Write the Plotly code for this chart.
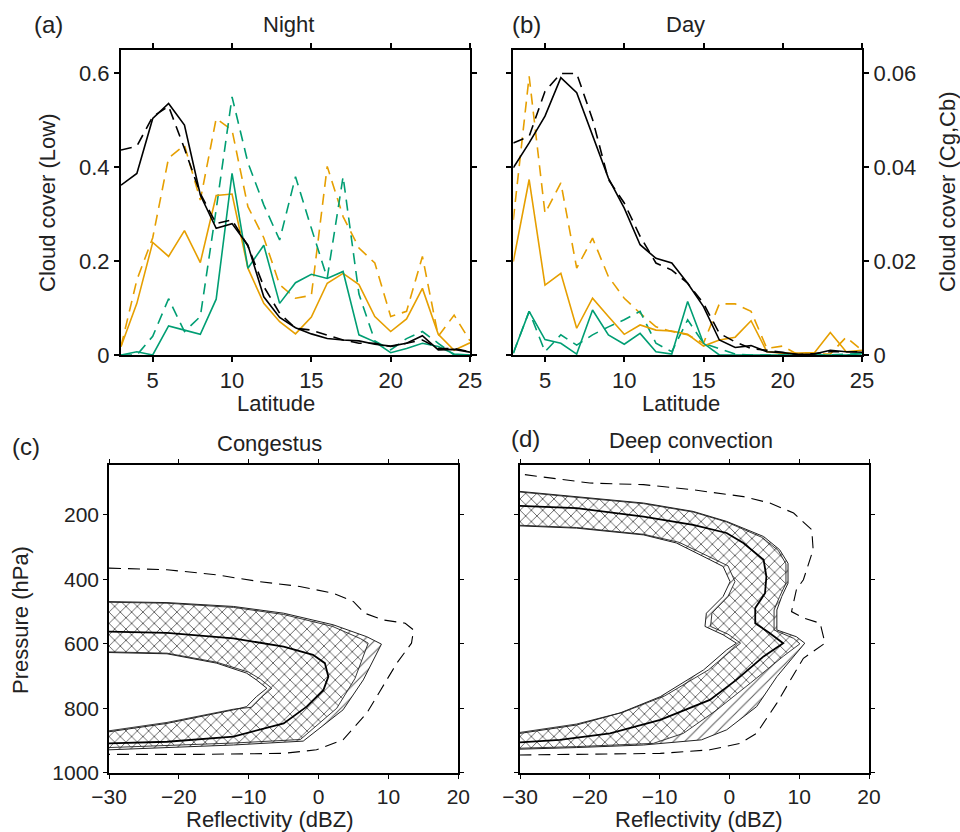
import plotly.graph_objects as go

# ---------------- data: panels (a) and (b) ----------------
latitude = list(range(3, 26))

night_black_solid = [0.362, 0.387, 0.504, 0.536, 0.49, 0.341, 0.27, 0.28, 0.234, 0.124, 0.08, 0.058,
                     0.045, 0.035, 0.032, 0.03, 0.023, 0.019, 0.025, 0.041, 0.011, 0.012, 0.006]
night_black_dash = [0.437, 0.445, 0.508, 0.53, 0.44, 0.344, 0.28, 0.288, 0.232, 0.146, 0.089, 0.057,
                    0.053, 0.043, 0.032, 0.025, 0.025, 0.018, 0.025, 0.032, 0.014, 0.014, 0.007]
night_orange_solid = [0.018, 0.11, 0.24, 0.21, 0.265, 0.197, 0.34, 0.343, 0.185, 0.11, 0.071, 0.045,
                      0.081, 0.153, 0.174, 0.15, 0.082, 0.05, 0.077, 0.142, 0.044, 0.01, 0.026]
night_orange_dash = [0.018, 0.16, 0.25, 0.42, 0.447, 0.33, 0.504, 0.479, 0.316, 0.25, 0.15, 0.121,
                     0.127, 0.402, 0.295, 0.228, 0.196, 0.082, 0.093, 0.21, 0.04, 0.085, 0.03]
night_green_solid = [0.0, 0.007, 0.0, 0.062, 0.053, 0.044, 0.119, 0.387, 0.185, 0.234, 0.11, 0.154,
                     0.172, 0.163, 0.178, 0.043, 0.028, 0.005, 0.014, 0.025, 0.018, 0.002, 0.0]
night_green_dash = [0.0, 0.0, 0.04, 0.12, 0.05, 0.082, 0.31, 0.55, 0.41, 0.32, 0.245, 0.38,
                    0.27, 0.164, 0.38, 0.13, 0.03, 0.011, 0.035, 0.05, 0.025, 0.0, 0.0]

day_black_solid = [0.0399, 0.0452, 0.0509, 0.0591, 0.0559, 0.047, 0.0377, 0.0313, 0.0235, 0.0206, 0.0196,
                   0.0153, 0.0103, 0.0032, 0.0016, 0.002, 0.0007, 0.0005, 0.0001, 0.0002, 0.001, 0.0007, 0.0006]
day_black_dash = [0.0452, 0.0466, 0.0562, 0.06, 0.06, 0.0502, 0.0374, 0.0324, 0.0253, 0.0196, 0.0181,
                  0.0153, 0.011, 0.0046, 0.0028, 0.0014, 0.001, 0.0005, 0.0001, 0.0003, 0.0007, 0.0007, 0.0007]
day_orange_solid = [0.0199, 0.0374, 0.0149, 0.0174, 0.0057, 0.0121, 0.0082, 0.0044, 0.0064, 0.0053, 0.0051,
                    0.0044, 0.0019, 0.0032, 0.0038, 0.0073, 0.0007, 0.0004, 0.0004, 0.0005, 0.0048, 0.0007, 0.001]
day_orange_dash = [0.0288, 0.0594, 0.0302, 0.0367, 0.0185, 0.0249, 0.0167, 0.0121, 0.0089, 0.006, 0.005,
                   0.0043, 0.0025, 0.0109, 0.0109, 0.0093, 0.0014, 0.0019, 0.0, 0.0002, 0.0002, 0.0038, 0.001]
day_green_solid = [0.0004, 0.0093, 0.0033, 0.0025, 0.0002, 0.0096, 0.0043, 0.0023, 0.0046, 0.0007, 0.0002,
                   0.0114, 0.0025, 0.0, 0.0, 0.0, 0.0, 0.0, 0.0, 0.0, 0.0, 0.0, 0.0003]
day_green_dash = [0.0004, 0.0093, 0.0007, 0.0043, 0.0021, 0.0043, 0.006, 0.0075, 0.0093, 0.0025, 0.0007,
                  0.0075, 0.0025, 0.0014, 0.0002, 0.0, 0.0, 0.0, 0.0, 0.0, 0.0, 0.0002, 0.0003]

# ---------------- data: panel (c) Congestus contours (dBZ, hPa) ----------------
cg_dash_dbz = [-30, -21.7, -14.6, -8.4, -2.7, 2.1, 5.0, 6.6, 9.3, 12.4, 13.6, 13.3, 11.2, 9.5, 6.9, 3.5, -0.3, -5.0, -17, -30]
cg_dash_p = [365, 370, 386, 407, 422, 443, 469, 505, 526, 536, 557, 598, 660, 722, 815, 898, 929, 940, 943, 943]

cg_outer_dbz = [-30, -21.7, -12.2, -5.0, 2.1, 6.9, 9.0, 6.4, 3.5, -2.2, -12.2, -21.7, -30]
cg_outer_p = [469, 472, 484, 505, 541, 578, 601, 712, 805, 902, 914, 922, 929]

cg_band_dbz = [-30, -21.7, -12.2, -5.0, 2.0, 6.0, 7.1, 5.2, 2.6, -2.6, -12.2, -21.7, -30]
cg_band_p = [471, 474, 487, 509, 546, 584, 598, 708, 800, 897, 908, 916, 922]

cg_inner2_dbz = [-30, -21.7, -14.6, -10.0, -8.3, -6.7, -8.2, -9.6, -12.2, -21.7, -30]
cg_inner2_p = [625, 629, 657, 688, 710, 738, 766, 797, 803, 844, 870]

cg_inner_dbz = [-30, -21.7, -14.6, -10.3, -8.9, -7.4, -8.9, -10.3, -12.2, -21.7, -30]
cg_inner_p = [627, 631, 660, 691, 712, 738, 764, 795, 805, 847, 873]

cg_mid_dbz = [-30, -21.7, -12.2, -5.0, -0.8, 0.9, 1.4, 0.7, -1.7, -5.0, -12.2, -21.7, -30]
cg_mid_p = [562, 566, 583, 609, 634, 660, 702, 743, 795, 847, 888, 904, 909]

# ---------------- data: panel (d) Deep convection contours (dBZ, hPa) ----------------
dc_dash_dbz = [-29.3, -20, -12.3, -5.2, 2.0, 5.8, 9.2, 11.8, 12.0, 10.6, 9.6, 8.9, 10.6, 13.0, 13.7, 10.6,
               9.6, 6.8, 3.9, 1.5, -2.8, -9.9, -30]
dc_dash_p = [75, 101, 106, 122, 143, 163, 194, 246, 308, 401, 432, 500, 520, 536, 598, 645,
             681, 784, 878, 909, 929, 940, 945]

dc_outer_dbz = [-30, -21.9, -12.3, -5.2, -0.4, 4.9, 7.2, 8.4, 8.4, 7.5, 6.8, 6.8, 9.6, 10.8, 9.6, 6.8,
                3.9, -0.4, -4.0, -12.3, -21.9, -30]
dc_outer_p = [127, 143, 163, 189, 220, 267, 308, 350, 412, 453, 495, 557, 578, 598, 629, 702,
              795, 867, 898, 914, 922, 927]

dc_band_dbz = [-30, -21.9, -12.3, -5.2, -0.4, 4.6, 7.0, 8.1, 8.1, 7.2, 6.4, 6.4, 9.2, 10.1, 7.7, 3.0,
               -1.8, -6.6, -10.9, -21.9, -30]
dc_band_p = [129, 145, 165, 191, 222, 269, 310, 352, 412, 453, 495, 557, 583, 600, 639, 722,
             805, 878, 909, 919, 924]

dc_inner2_dbz = [-30, -21.9, -12.3, -7.2, -2.2, -0.2, 0.8, -0.2, -2.5, -2.7, -0.2, 1.6, 0.3, -3.0,
                 -9.3, -15.2, -21.9, -30]
dc_inner2_p = [232, 239, 260, 285, 337, 358, 407, 453, 505, 546, 570, 598, 620, 681, 762, 812, 849, 875]

dc_inner_dbz = [-30, -21.9, -12.3, -7.6, -2.8, -0.9, 0.1, -0.9, -3.3, -3.5, -0.9, 1.0, -0.4, -3.7,
                -9.9, -15.7, -21.9, -30]
dc_inner_p = [234, 241, 262, 287, 339, 360, 407, 453, 505, 546, 572, 598, 619, 681, 764, 815, 852, 878]

dc_mid_dbz = [-30, -21.9, -12.3, -5.2, -0.4, 2.0, 4.9, 5.3, 5.1, 3.7, 3.7, 5.8, 7.7, 4.9, 1.0, -2.8,
              -9.9, -17.1, -24.3, -30]
dc_mid_p = [172, 179, 205, 231, 256, 287, 339, 391, 443, 489, 536, 567, 598, 639, 712, 774,
            836, 878, 898, 906]

# ---------------- tick labels ----------------
lat_ticks = [5, 10, 15, 20, 25]
low_ticks = [0, 0.2, 0.4, 0.6]
low_ticktext = ["0", "0.2", "0.4", "0.6"]
cgcb_ticks = [0, 0.02, 0.04, 0.06]
cgcb_ticktext = ["0", "0.02", "0.04", "0.06"]
dbz_ticks = [-30, -20, -10, 0, 10, 20]
dbz_ticktext = ["\u221230", "\u221220", "\u221210", "0", "10", "20"]
p_ticks = [200, 400, 600, 800, 1000]
p_ticktext = ["200", "400", "600", "800", "1000"]

# ---------------- styles ----------------
W, H = 960, 832
ORANGE = "#E69F00"
GREEN = "#009E73"
FONT = "Liberation Sans, Arial, sans-serif"
DASH = "11px,7px"
LW = 1.6


def px_x(px):
    return px / W


def px_y(py):
    return 1 - py / H


fig = go.Figure()


def add_line(x, y, color, dash, xa, ya, width=LW):
    fig.add_trace(go.Scatter(x=x, y=y, mode="lines", xaxis=xa, yaxis=ya,
                             line=dict(color=color, width=width, dash=dash),
                             hoverinfo="skip", showlegend=False))


# panel (a)
for ys, col, dsh in [(night_orange_dash, ORANGE, DASH), (night_green_dash, GREEN, DASH),
                     (night_orange_solid, ORANGE, "solid"), (night_green_solid, GREEN, "solid"),
                     (night_black_dash, "black", DASH), (night_black_solid, "black", "solid")]:
    add_line(latitude, ys, col, dsh, "x", "y")

# panel (b)
for ys, col, dsh in [(day_orange_dash, ORANGE, DASH), (day_green_dash, GREEN, DASH),
                     (day_orange_solid, ORANGE, "solid"), (day_green_solid, GREEN, "solid"),
                     (day_black_dash, "black", DASH), (day_black_solid, "black", "solid")]:
    add_line(latitude, ys, col, dsh, "x2", "y2")


def add_fill(x, y, xa, ya, shape, size, solidity, fg, bg):
    if shape is None:
        fig.add_trace(go.Scatter(x=x, y=y, mode="lines", fill="toself", fillcolor=bg,
                                 line=dict(width=0, color=bg), xaxis=xa, yaxis=ya,
                                 hoverinfo="skip", showlegend=False))
    else:
        fig.add_trace(go.Scatter(x=x, y=y, mode="lines", fill="toself", fillcolor=bg,
                                 fillpattern=dict(shape=shape, size=size, solidity=solidity,
                                                  fgcolor=fg, bgcolor=bg),
                                 line=dict(width=0, color=bg), xaxis=xa, yaxis=ya,
                                 hoverinfo="skip", showlegend=False))


def contour_panel(xa, ya, outer, band, inner2, inner, mid, dash):
    add_fill(outer[0], outer[1], xa, ya, "/", 8, 0.12, "#555555", "white")
    add_fill(band[0], band[1], xa, ya, "x", 8, 0.15, "#111111", "white")
    add_fill(inner2[0], inner2[1], xa, ya, "/", 8, 0.12, "#666666", "white")
    add_fill(inner[0], inner[1], xa, ya, None, 0, 0, None, "white")
    for c, w in [(outer, 1.0), (band, 0.9), (inner2, 0.9), (inner, 1.0)]:
        add_line(c[0], c[1], "#222222", "solid", xa, ya, width=w)
    add_line(mid[0], mid[1], "black", "solid", xa, ya, width=1.8)
    add_line(dash[0], dash[1], "black", "12px,7px", xa, ya, width=1.1)


contour_panel("x3", "y3", (cg_outer_dbz, cg_outer_p), (cg_band_dbz, cg_band_p),
              (cg_inner2_dbz, cg_inner2_p), (cg_inner_dbz, cg_inner_p),
              (cg_mid_dbz, cg_mid_p), (cg_dash_dbz, cg_dash_p))
contour_panel("x4", "y4", (dc_outer_dbz, dc_outer_p), (dc_band_dbz, dc_band_p),
              (dc_inner2_dbz, dc_inner2_p), (dc_inner_dbz, dc_inner_p),
              (dc_mid_dbz, dc_mid_p), (dc_dash_dbz, dc_dash_p))

# ---------------- axes ----------------
top_ax = dict(showline=True, linecolor="black", linewidth=2, mirror="ticks", ticks="outside",
              ticklen=5, tickwidth=1.5, tickcolor="black", showgrid=False, zeroline=False,
              automargin=False, tickfont=dict(family=FONT, size=22, color="#222"))
bot_ax = dict(showline=True, linecolor="black", linewidth=1.6, mirror="ticks", ticks="outside",
              ticklen=4, tickwidth=1.2, tickcolor="black", showgrid=False, zeroline=False,
              automargin=False, tickfont=dict(family=FONT, size=21, color="#222"))

dom_y_top = [px_y(355), px_y(50)]
dom_y_bot = [px_y(772.7), px_y(465)]

fig.update_layout(
    template="none",
    width=W, height=H, margin=dict(l=0, r=0, t=0, b=0, pad=0),
    paper_bgcolor="white", plot_bgcolor="white", showlegend=False,
    xaxis=dict(**top_ax, domain=[px_x(121), px_x(470)], range=[3, 25], tickvals=lat_ticks, anchor="y"),
    yaxis=dict(**top_ax, domain=dom_y_top, range=[0, 0.65], tickvals=low_ticks,
               ticktext=low_ticktext, anchor="x"),
    xaxis2=dict(**top_ax, domain=[px_x(513.3), px_x(862)], range=[3, 25], tickvals=lat_ticks, anchor="y2"),
    yaxis2=dict(**top_ax, domain=dom_y_top, range=[0, 0.065], tickvals=cgcb_ticks,
                ticktext=cgcb_ticktext, side="right", anchor="x2"),
    xaxis3=dict(**bot_ax, domain=[px_x(109), px_x(458.3)], range=[-30, 20], tickvals=dbz_ticks,
                ticktext=dbz_ticktext, anchor="y3"),
    yaxis3=dict(**bot_ax, domain=dom_y_bot, range=[1000, 45], tickvals=p_ticks,
                ticktext=p_ticktext, anchor="x3"),
    xaxis4=dict(**bot_ax, domain=[px_x(520), px_x(869)], range=[-30, 20], tickvals=dbz_ticks,
                ticktext=dbz_ticktext, anchor="y4"),
    yaxis4=dict(**bot_ax, domain=dom_y_bot, range=[1000, 45], tickvals=p_ticks,
                showticklabels=False, anchor="x4"),
)

# ---------------- text ----------------
def label(text, x, y, size=22, angle=0):
    fig.add_annotation(text=text, x=px_x(x), y=px_y(y), xref="paper", yref="paper",
                       showarrow=False, textangle=angle, xanchor="center", yanchor="middle",
                       font=dict(family=FONT, size=size, color="#222"))


label("(a)", 48, 24, 24)
label("Night", 288, 25)
label("(b)", 526, 24, 24)
label("Day", 685, 25)
label("Cloud cover (Low)", 48, 203, 22, -90)
label("Cloud cover (Cg,Cb)", 947, 192, 22, -90)
label("Latitude", 276, 403)
label("Latitude", 681, 403)
label("(c)", 26, 446, 24)
label("Congestus", 269, 443)
label("(d)", 525, 438, 24)
label("Deep convection", 691, 440)
label("Pressure (hPa)", 20, 620, 22, -90)
label("Reflectivity (dBZ)", 269, 819)
label("Reflectivity (dBZ)", 698, 819)

fig.write_html("out.html", config={"displayModeBar": False},
               post_script="document.body.style.margin='0';document.body.style.overflow='hidden';")
